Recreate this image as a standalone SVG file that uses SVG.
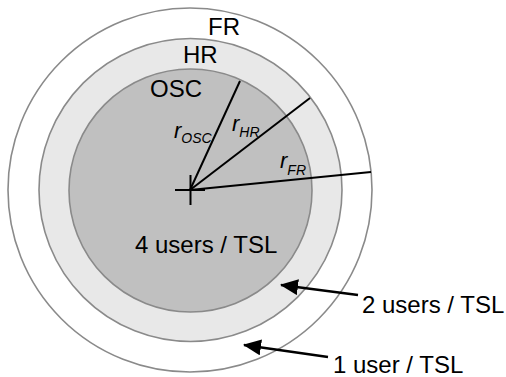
<svg xmlns="http://www.w3.org/2000/svg" width="506" height="377" viewBox="0 0 506 377">
<defs>
<style>
.ring{stroke:#8a8a8a;stroke-width:1.6}
.t{font-family:"Liberation Sans",Arial,sans-serif;font-size:24px;fill:#000}
.r{font-family:"Liberation Sans",Arial,sans-serif;font-style:italic;font-size:22px;fill:#000}
.sub{font-size:14px}
.ln{stroke:#000;stroke-width:2;fill:none}
.ar{stroke:#000;stroke-width:2.5;fill:none}
</style>
<marker id="ah" viewBox="0 0 18 16" refX="17" refY="8" markerWidth="18" markerHeight="16" orient="auto" markerUnits="userSpaceOnUse">
<path d="M0,0 L18,8 L0,16 z" fill="#000"/>
</marker>
</defs>
<rect width="506" height="377" fill="#fff"/>
<g id="fr"><circle class="ring" cx="190" cy="190" r="182" fill="#fff"/><text class="t" x="208" y="35">FR</text></g>
<g id="hr"><circle class="ring" cx="190.5" cy="190" r="151.5" fill="#e8e8e8"/><text class="t" x="183" y="63">HR</text></g>
<g id="osc"><circle class="ring" cx="190.5" cy="190.5" r="121.5" fill="#c0c0c0"/><text class="t" x="150" y="97">OSC</text><text class="t" x="135" y="253">4 users / TSL</text></g>
<g id="connectors">
<line class="ln" x1="175" y1="190" x2="205" y2="190"/>
<line class="ln" x1="190.5" y1="175" x2="190.5" y2="205"/>
<line class="ln" x1="190" y1="190" x2="240" y2="81"/>
<line class="ln" x1="190" y1="190" x2="310" y2="98"/>
<line class="ln" x1="190" y1="190" x2="371" y2="172"/>
<line class="ar" x1="358" y1="295" x2="281" y2="285" marker-end="url(#ah)"/>
<line class="ar" x1="328" y1="357" x2="244" y2="345" marker-end="url(#ah)"/>
</g>
<g id="labels">
<text class="r" x="174" y="138">r<tspan class="sub" dy="5">OSC</tspan></text>
<text class="r" x="232" y="131">r<tspan class="sub" dy="6">HR</tspan></text>
<text class="r" x="280" y="168">r<tspan class="sub" dy="7">FR</tspan></text>
<text class="t" x="362" y="313">2 users / TSL</text>
<text class="t" x="333" y="373">1 user / TSL</text>
</g>
</svg>
